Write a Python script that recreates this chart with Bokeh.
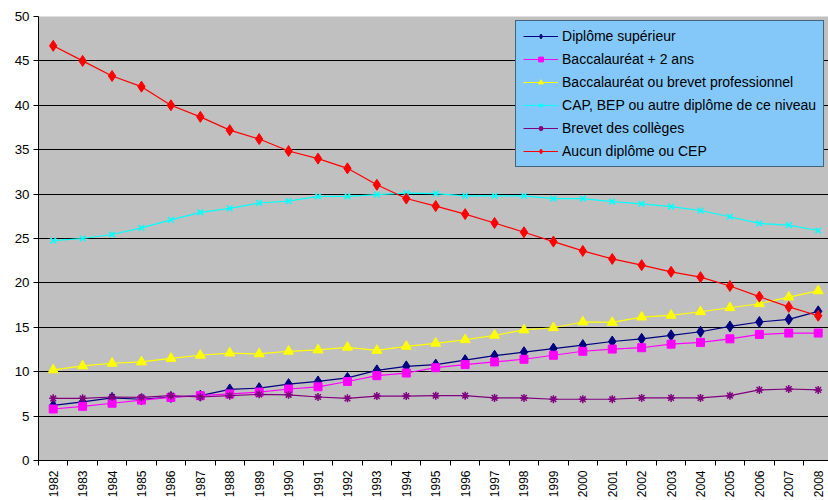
from bokeh.plotting import figure
from bokeh.models import FixedTicker, Range1d
from bokeh.embed import file_html
from bokeh.resources import INLINE
import math

years = list(range(1982, 2009))
tick_labels = [str(y) for y in years]

superieur = [6.2, 6.6, 7.05, 6.9, 7.15, 7.3, 8.0, 8.15, 8.6, 8.9, 9.3, 10.15, 10.6, 10.8,
             11.3, 11.8, 12.2, 12.6, 13.0, 13.4, 13.7, 14.1, 14.5, 15.1, 15.6, 15.9, 16.8]
bac2 = [5.8, 6.1, 6.45, 6.8, 7.1, 7.3, 7.5, 7.7, 8.05, 8.3, 8.9, 9.55, 9.85, 10.45,
        10.8, 11.1, 11.4, 11.85, 12.3, 12.55, 12.7, 13.1, 13.3, 13.7, 14.2, 14.35, 14.35]
bac = [10.2, 10.65, 10.95, 11.1, 11.5, 11.85, 12.1, 12.0, 12.3, 12.45, 12.75, 12.4, 12.85, 13.2,
       13.6, 14.1, 14.7, 14.95, 15.6, 15.55, 16.15, 16.35, 16.75, 17.2, 17.65, 18.4, 19.1]
cap = [24.75, 25.0, 25.45, 26.2, 27.1, 27.95, 28.4, 29.0, 29.2, 29.75, 29.75, 29.95, 30.1, 30.05,
       29.8, 29.8, 29.8, 29.5, 29.5, 29.15, 28.9, 28.6, 28.15, 27.45, 26.7, 26.5, 25.9]
brevet = [7.0, 7.0, 7.15, 7.1, 7.3, 7.15, 7.3, 7.45, 7.4, 7.15, 7.0, 7.25, 7.25, 7.3,
          7.3, 7.05, 7.05, 6.9, 6.9, 6.9, 7.05, 7.05, 7.05, 7.3, 7.95, 8.05, 7.95]
aucun = [46.7, 45.0, 43.3, 42.1, 40.0, 38.7, 37.2, 36.2, 34.85, 34.0, 32.9, 31.05, 29.5, 28.65,
         27.75, 26.75, 25.7, 24.65, 23.6, 22.7, 22.0, 21.25, 20.65, 19.65, 18.45, 17.3, 16.3]

series = [
    ("Diplôme supérieur", superieur, "#000080", "diamond", 11),
    ("Baccalauréat + 2 ans", bac2, "#FF00FF", "square", 8),
    ("Baccalauréat ou brevet professionnel", bac, "#FFFF00", "triangle", 10),
    ("CAP, BEP ou autre diplôme de ce niveau", cap, "#00FFFF", "x", 8),
    ("Brevet des collèges", brevet, "#800080", "asterisk", 8),
    ("Aucun diplôme ou CEP", aucun, "#FF0000", "diamond", 11),
]

FONT = "Liberation Sans"

p = figure(width=828, height=500, output_backend="svg", toolbar_location=None,
           x_range=Range1d(1981.5, 2008.35), y_range=Range1d(0, 50),
           min_border_left=38, min_border_top=16, min_border_bottom=39, min_border_right=0)

p.background_fill_color = "#C0C0C0"
p.border_fill_color = "white"
p.outline_line_color = None

p.xgrid.grid_line_color = None
p.ygrid.grid_line_color = "black"
p.ygrid.grid_line_width = 1

# x axis: labels at category centres, tick marks at category boundaries
p.xaxis.ticker = FixedTicker(ticks=years, minor_ticks=[y - 0.5 for y in years] + [years[-1] + 0.5])
p.xaxis.major_label_overrides = {y: lab for y, lab in zip(years, tick_labels)}
p.xaxis.major_tick_out = 0
p.xaxis.major_tick_in = 0
p.xaxis.minor_tick_out = 5
p.xaxis.minor_tick_in = 0
p.xaxis.minor_tick_line_color = "black"
p.xaxis.axis_line_color = "black"
p.xaxis.major_label_orientation = math.pi / 2
p.xaxis.major_label_standoff = 5
p.xaxis.major_label_text_font = FONT
p.xaxis.major_label_text_font_size = "12px"
p.xaxis.major_label_text_color = "black"

p.yaxis.ticker = FixedTicker(ticks=list(range(0, 51, 5)))
p.yaxis.major_tick_out = 5
p.yaxis.major_tick_in = 0
p.yaxis.minor_tick_line_color = None
p.yaxis.major_tick_line_color = "black"
p.yaxis.axis_line_color = "black"
p.yaxis.major_label_standoff = 4
p.yaxis.major_label_text_font = FONT
p.yaxis.major_label_text_font_size = "10pt"
p.yaxis.major_label_text_color = "black"

for label, vals, color, marker, size in series:
    p.line(years, vals, line_color=color, line_width=1.2, legend_label=label)
    if marker in ("x", "asterisk"):
        p.scatter(years, vals, marker=marker, size=size, line_color=color, line_width=1.5,
                  legend_label=label)
    else:
        p.scatter(years, vals, marker=marker, size=size, fill_color=color, line_color=color,
                  legend_label=label)

lg = p.legend[0]
lg.location = "top_right"
lg.margin = 4
lg.padding = 7
lg.spacing = 7
lg.label_height = 12
lg.glyph_height = 12
lg.glyph_width = 35
lg.label_standoff = 4
lg.label_text_font = FONT
lg.label_text_font_size = "14px"
lg.label_text_color = "black"
lg.background_fill_color = "#84C8FA"
lg.background_fill_alpha = 1
lg.border_line_color = "black"
lg.border_line_width = 1

open("out.html", "w").write(file_html(p, INLINE))
